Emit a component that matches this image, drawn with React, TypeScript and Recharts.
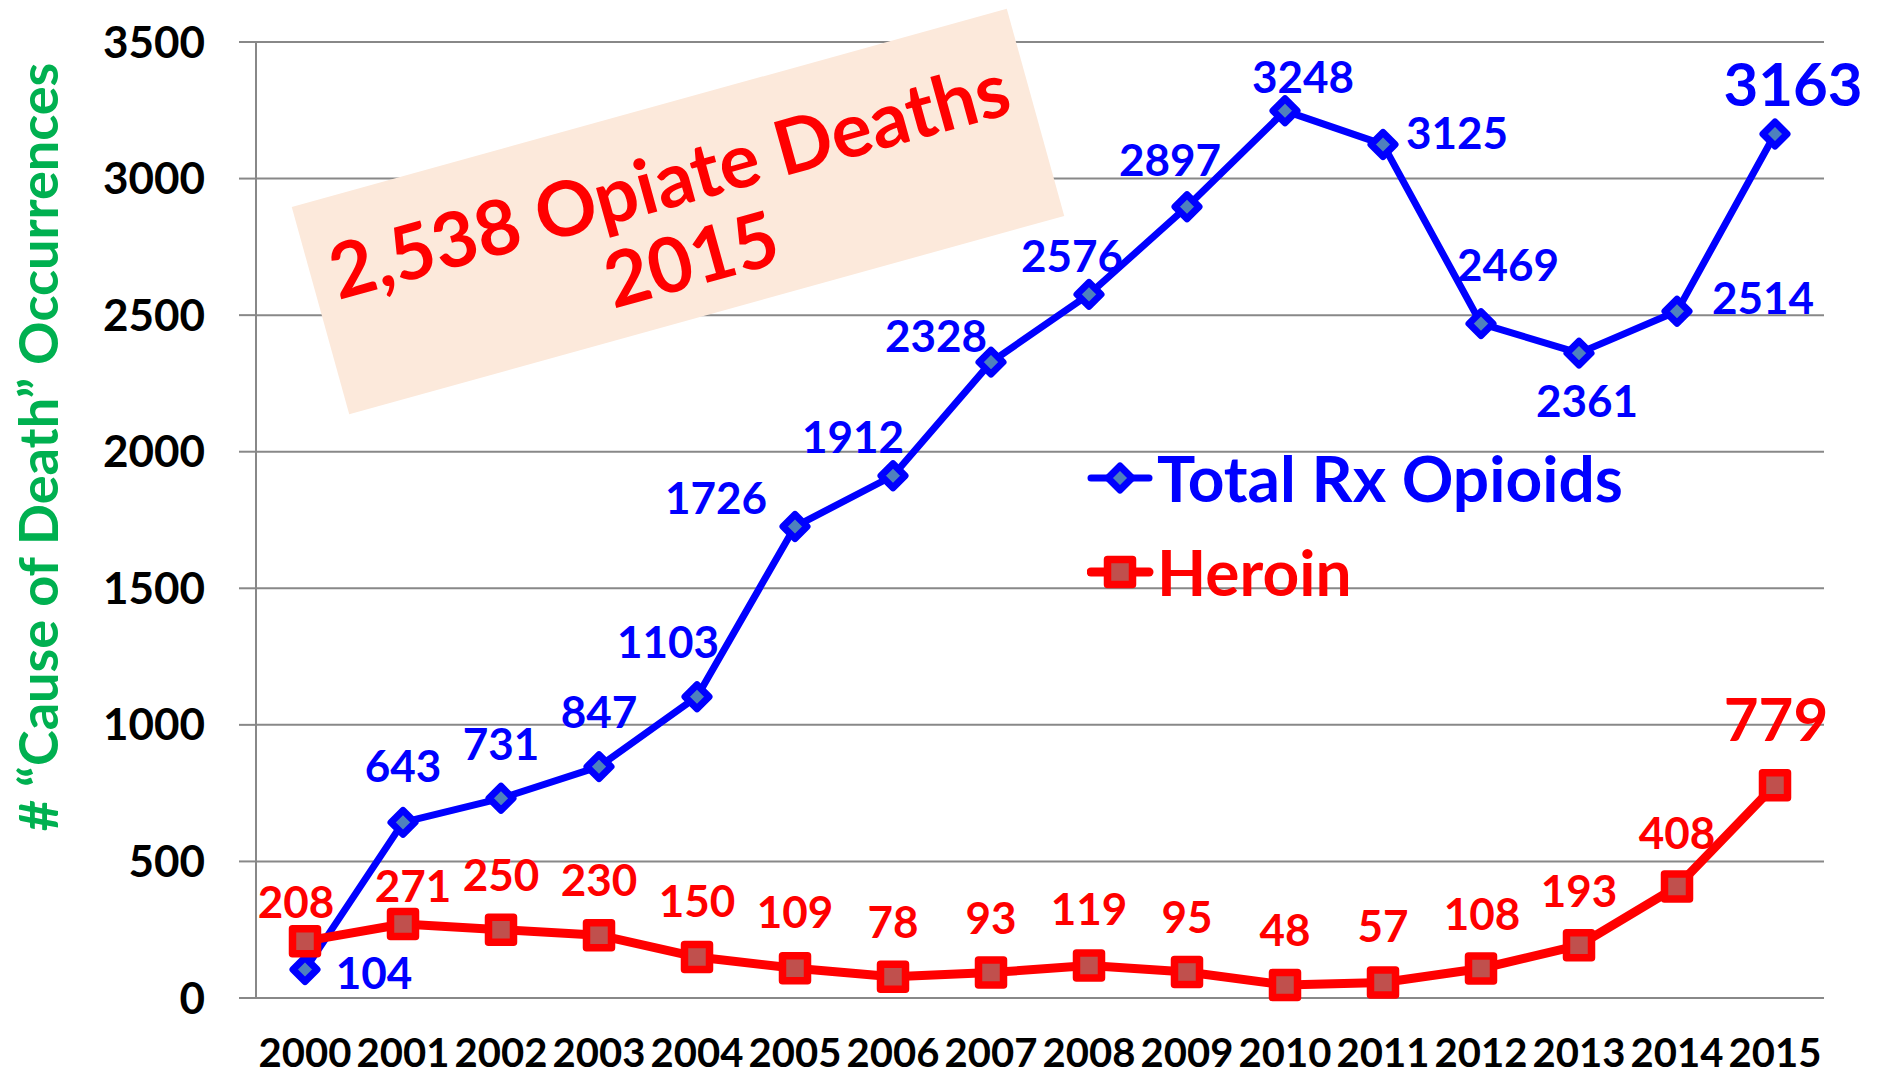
import { CartesianGrid, LabelList, Legend, Line, LineChart, XAxis, YAxis } from 'recharts';

const YEARS = ['2000', '2001', '2002', '2003', '2004', '2005', '2006', '2007', '2008', '2009', '2010', '2011', '2012', '2013', '2014', '2015'];
const RX_OPIOIDS = [104, 643, 731, 847, 1103, 1726, 1912, 2328, 2576, 2897, 3248, 3125, 2469, 2361, 2514, 3163];
const HEROIN = [208, 271, 250, 230, 150, 109, 78, 93, 119, 95, 48, 57, 108, 193, 408, 779];
const Y_TICKS = [0, 500, 1000, 1500, 2000, 2500, 3000, 3500];

const Y_TITLE = '# \u201CCause of Death\u201D Occurrences';
const NOTE_LINES = ['2,538 Opiate Deaths', '2015'];

const BLUE = '#0000ff';
const RED = '#ff0000';
const GRID = '#888888';
const FONT = 'Lato, "Open Sans", sans-serif';

// where each value label sits relative to its point (dx, dy)
const RX_LABEL_POS: [number, number][] = [
  [69, 2], [0, -57], [0, -55], [0, -56], [-29, -56], [-79, -30], [-40, -40], [-55, -27],
  [-17, -39], [-17, -48], [18, -35], [74, -12], [27, -60], [8, 47], [86, -14], [18, -51],
];
const HEROIN_LABEL_POS: [number, number][] = [
  [-9, -40], [10, -39], [0, -56], [0, -56], [0, -57], [0, -57], [0, -56], [0, -56],
  [0, -57], [0, -56], [0, -56], [0, -57], [1, -56], [0, -55], [0, -55], [1, -67],
];
const LAST = YEARS.length - 1;

const data = YEARS.map((year, i) => ({ idx: i, year, rx: RX_OPIOIDS[i], heroin: HEROIN[i] }));
const boundaryTicks = [...YEARS.map((_, i) => i - 0.5), YEARS.length - 0.5];

const diamondPath = (cx: number, cy: number, r: number) =>
  `M${cx},${cy - r}L${cx + r},${cy}L${cx},${cy + r}L${cx - r},${cy}Z`;

const DiamondDot = (props: any) => {
  const { cx, cy, index } = props;
  if (cx == null || cy == null) return <g key={`rx-${index}`} />;
  return (
    <path
      key={`rx-${index}`}
      d={diamondPath(cx, cy, 12)}
      fill="#4f81bd"
      stroke={BLUE}
      strokeWidth={7}
      strokeLinejoin="round"
    />
  );
};

const SquareDot = (props: any) => {
  const { cx, cy, index } = props;
  if (cx == null || cy == null) return <g key={`h-${index}`} />;
  return (
    <rect
      key={`h-${index}`}
      x={cx - 12.5}
      y={cy - 12.5}
      width={25}
      height={25}
      fill="#c0504d"
      stroke={RED}
      strokeWidth={7.5}
      strokeLinejoin="round"
    />
  );
};

const makeLabel = (color: string, pos: [number, number][]) => (props: any) => {
  const x = props.x ?? props.viewBox?.x;
  const y = props.y ?? props.viewBox?.y;
  const { value, index } = props;
  if (x == null || y == null) return null;
  const [dx, dy] = pos[index] ?? [0, -50];
  return (
    <text
      key={`${color}-${index}`}
      x={x + dx}
      y={y + dy}
      textAnchor="middle"
      dominantBaseline="central"
      fill={color}
      fontFamily={FONT}
      fontWeight={700}
      fontSize={index === LAST ? 60 : 44}
    >
      {value}
    </text>
  );
};

const YTitle = (props: any) => {
  const vb = props.viewBox ?? { x: 0, y: 0, height: 0 };
  const cx = vb.x + 37;
  const cy = vb.y + vb.height / 2 - 73;
  return (
    <text
      x={cx}
      y={cy}
      transform={`rotate(-90 ${cx} ${cy})`}
      textAnchor="middle"
      dominantBaseline="central"
      fill="#00b050"
      fontFamily={FONT}
      fontWeight={700}
      fontSize={54}
    >
      {Y_TITLE}
    </text>
  );
};

const LEGEND_ITEMS = [
  { name: 'Total Rx Opioids', color: BLUE, width: 7, marker: 'diamond' },
  { name: 'Heroin', color: RED, width: 9, marker: 'square' },
];

const ChartLegend = () => (
  <div>
    {LEGEND_ITEMS.map((item) => (
      <div key={item.name} style={{ display: 'flex', alignItems: 'center', height: 94 }}>
        <svg width={70} height={44}>
          <line x1={4} y1={22} x2={62} y2={22} stroke={item.color} strokeWidth={item.width} strokeLinecap="round" />
          {item.marker === 'diamond' ? (
            <path d={diamondPath(33, 22, 12)} fill="#4f81bd" stroke={BLUE} strokeWidth={7} strokeLinejoin="round" />
          ) : (
            <rect x={20.5} y={9.5} width={25} height={25} fill="#c0504d" stroke={RED} strokeWidth={7.5} strokeLinejoin="round" />
          )}
        </svg>
        <span
          style={{
            color: item.color,
            fontFamily: FONT,
            fontWeight: 700,
            fontSize: 64,
            lineHeight: 1,
            whiteSpace: 'nowrap',
          }}
        >
          {item.name}
        </span>
      </div>
    ))}
  </div>
);

const App = () => {
  return (
    <div style={{ position: 'absolute', left: 0, top: 0, width: 1884, height: 1078, background: '#fff' }}>
      <LineChart width={1884} height={1078} data={data} margin={{ top: 42, right: 60, left: 0, bottom: 0 }}>
        <CartesianGrid vertical={false} stroke={GRID} strokeWidth={2} />
        <XAxis
          xAxisId="num"
          type="number"
          dataKey="idx"
          domain={[-0.5, YEARS.length - 0.5]}
          ticks={boundaryTicks}
          interval={0}
          tick={false}
          tickSize={14}
          height={14}
          axisLine={{ stroke: GRID, strokeWidth: 2 }}
          tickLine={{ stroke: GRID, strokeWidth: 2 }}
        />
        <XAxis
          xAxisId="year"
          type="category"
          dataKey="year"
          scale="band"
          interval={0}
          height={66}
          tickSize={0}
          tickMargin={27}
          axisLine={false}
          tickLine={false}
          tick={{ fill: '#000', fontFamily: FONT, fontWeight: 700, fontSize: 40 }}
        />
        <YAxis
          domain={[0, 3500]}
          ticks={Y_TICKS}
          interval={0}
          width={256}
          tickSize={17}
          tickMargin={34}
          axisLine={{ stroke: GRID, strokeWidth: 2 }}
          tickLine={{ stroke: GRID, strokeWidth: 2 }}
          tick={{ fill: '#000', fontFamily: FONT, fontWeight: 700, fontSize: 44 }}
          label={<YTitle />}
        />
        <Legend
          layout="vertical"
          align="center"
          verticalAlign="middle"
          content={<ChartLegend />}
          wrapperStyle={{ position: 'absolute', left: 1087, top: 431, width: 660 }}
        />
        <Line
          xAxisId="num"
          type="linear"
          dataKey="rx"
          name="Total Rx Opioids"
          stroke={BLUE}
          strokeWidth={7}
          strokeLinejoin="round"
          dot={DiamondDot}
          activeDot={false}
          isAnimationActive={false}
        >
          <LabelList dataKey="rx" content={makeLabel(BLUE, RX_LABEL_POS)} />
        </Line>
        <Line
          xAxisId="num"
          type="linear"
          dataKey="heroin"
          name="Heroin"
          stroke={RED}
          strokeWidth={9}
          strokeLinejoin="round"
          dot={SquareDot}
          activeDot={false}
          isAnimationActive={false}
        >
          <LabelList dataKey="heroin" content={makeLabel(RED, HEROIN_LABEL_POS)} />
        </Line>
      </LineChart>
      <div
        style={{
          position: 'absolute',
          left: 677.5 - 371,
          top: 211.5 - 107.5,
          width: 742,
          height: 215,
          boxSizing: 'border-box',
          paddingTop: 31.5,
          background: '#fce9db',
          transform: 'rotate(-15.5deg)',
          textAlign: 'center',
          color: RED,
          fontFamily: FONT,
          fontWeight: 700,
          fontSize: 76,
          lineHeight: '82px',
          whiteSpace: 'nowrap',
        }}
      >
        {NOTE_LINES.map((line) => (
          <div key={line}>{line}</div>
        ))}
      </div>
    </div>
  );
};

export default App;
